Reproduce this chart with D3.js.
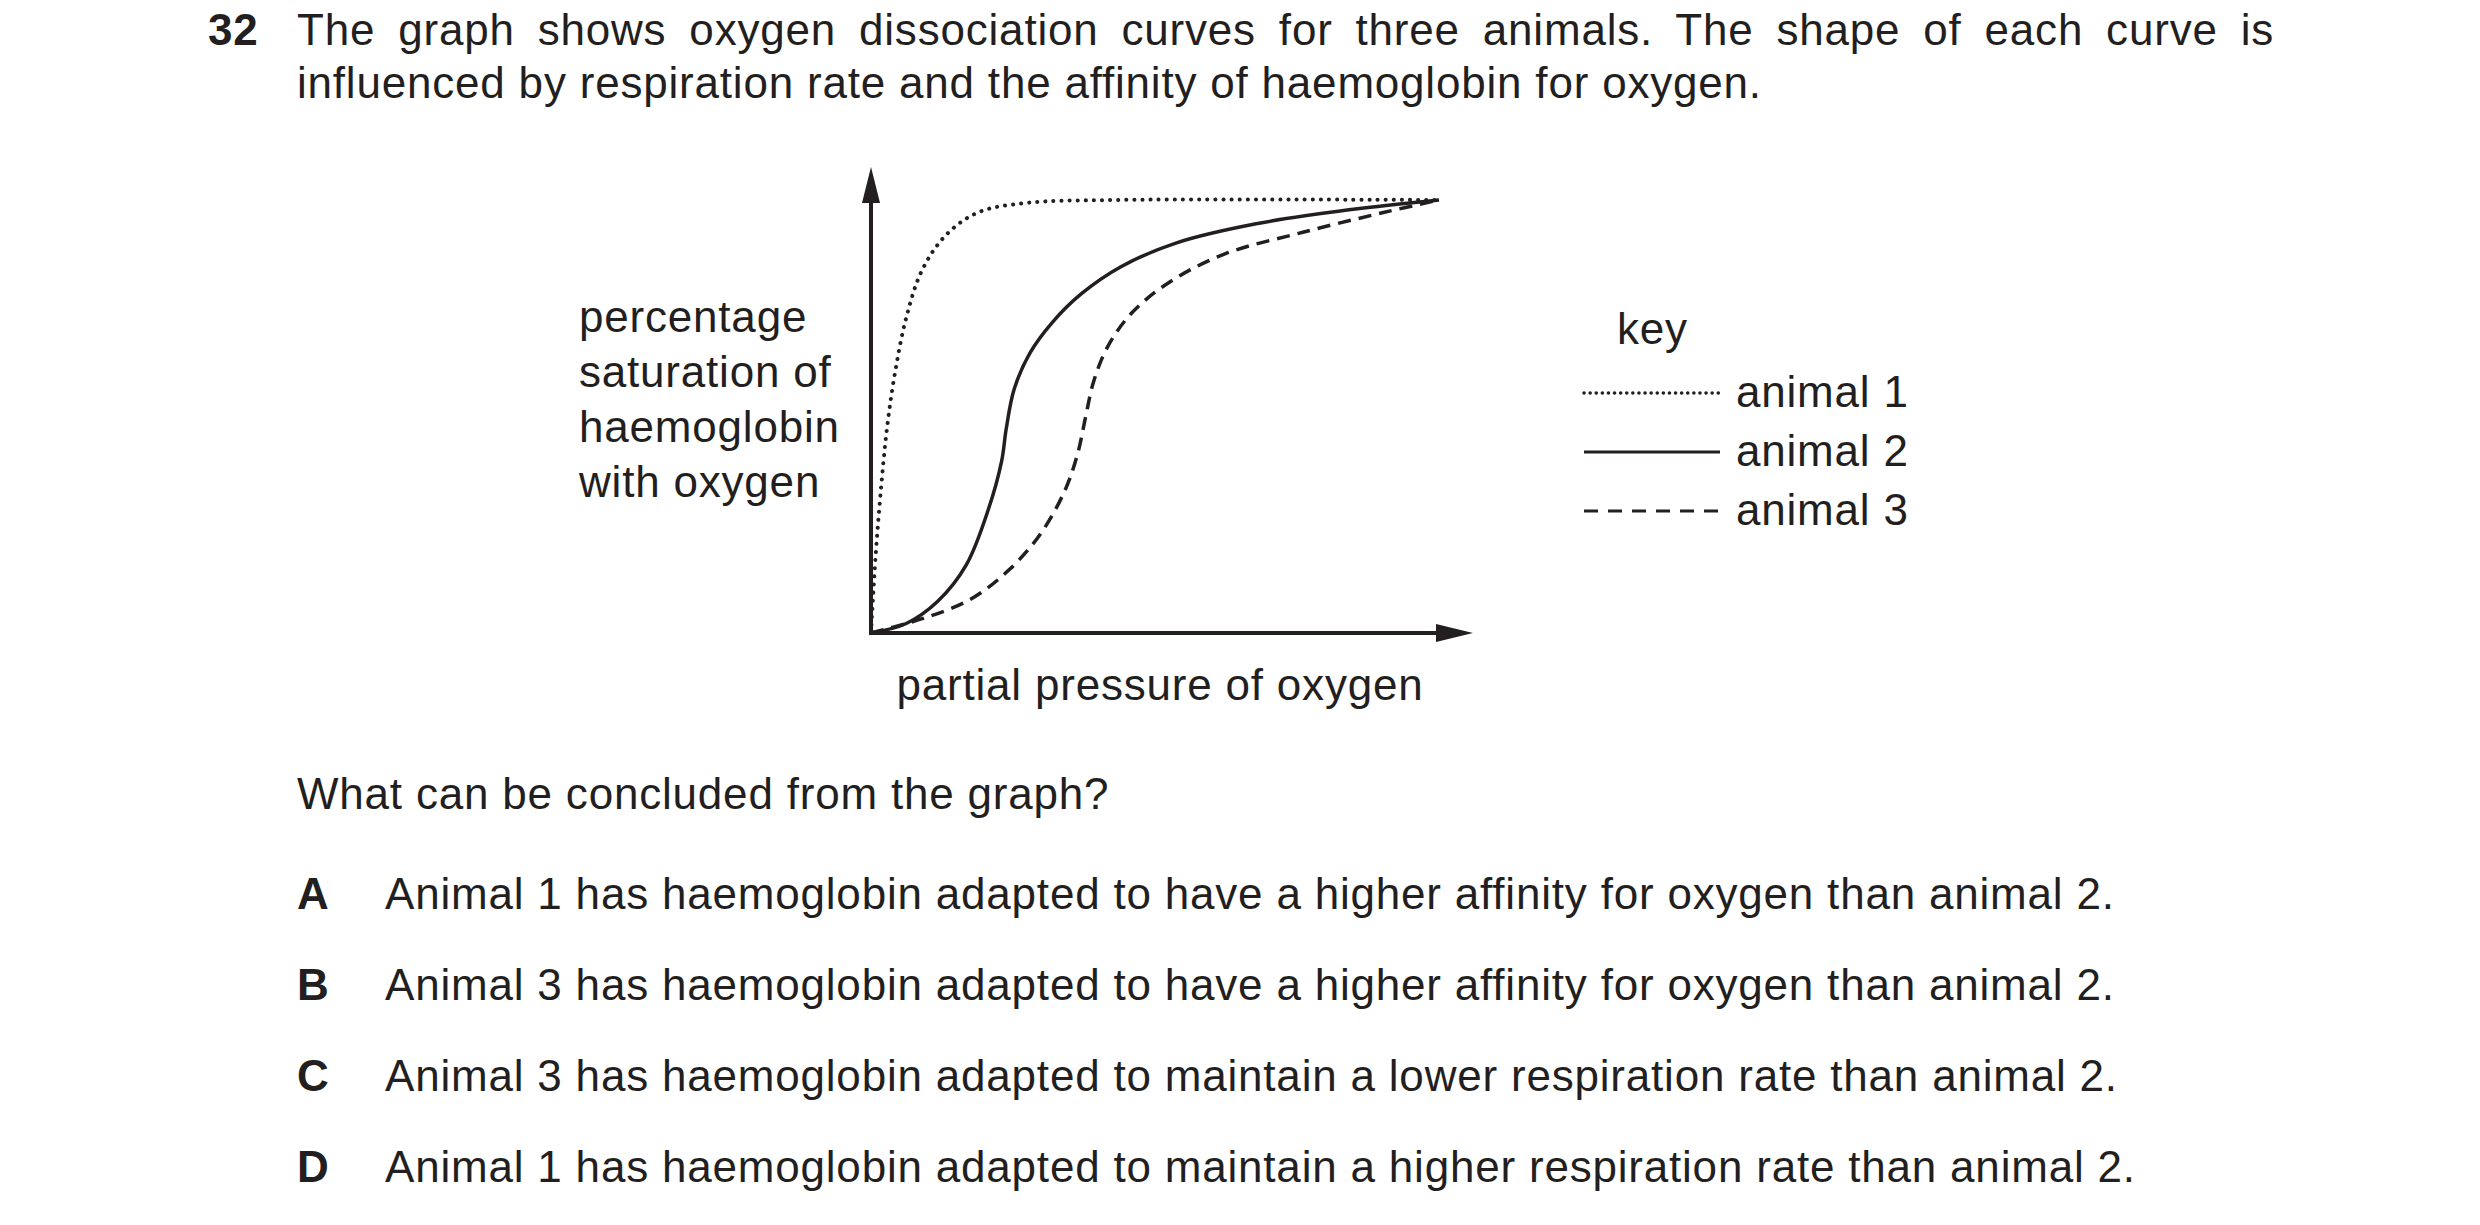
<!DOCTYPE html>
<html><head><meta charset="utf-8">
<script src="https://cdn.jsdelivr.net/npm/d3@7"></script>
<style>body{margin:0;background:#fff}text{font-family:"Liberation Sans",Arial,sans-serif;fill:#231f20;letter-spacing:0.8px}</style>
</head><body><svg id="c" width="2480" height="1225"></svg>
<script>
// data (x = % of axis length, y = % saturation)
const animal1X = [0,0.8,1.7,2.8,4.2,6.2,9,13.2,18.8,27.2,42.6,100];
const animal1Y = [0,17.6,32.4,47.1,59.9,72.8,83.8,91.9,97.1,99.3,100,100];
const animal2X = [0,6.2,11.8,16.8,20.7,23,23.8,25.2,28,31.9,37,44,53.8,67.8,84.6,100];
const animal2Y = [0,2.2,7.4,15.8,28.7,39.7,47.1,56.3,64.7,71.7,78.3,84.6,90.1,94.5,97.8,100];
const animal3X = [0,9,17.4,24.4,30,34.2,36.4,37.8,39.2,41.7,45.9,52.4,62.2,76.2,90.2,100];
const animal3Y = [0,3.3,7.7,14.7,23.2,33.1,41.5,50,58.1,66.2,73.9,80.9,87.5,92.6,97.1,100];
const seriesNames = ["animal 1","animal 2","animal 3"];
const yLabelLines = ["percentage","saturation of","haemoglobin","with oxygen"];
const xLabel = "partial pressure of oxygen";
const options = [["A","Animal 1 has haemoglobin adapted to have a higher affinity for oxygen than animal 2."],
["B","Animal 3 has haemoglobin adapted to have a higher affinity for oxygen than animal 2."],
["C","Animal 3 has haemoglobin adapted to maintain a lower respiration rate than animal 2."],
["D","Animal 1 has haemoglobin adapted to maintain a higher respiration rate than animal 2."]];

const svg = d3.select("#c");
const fs = 44;
const col = "#231f20";
svg.append("text").attr("x",208).attr("y",45).attr("font-size",fs).attr("font-weight","bold").text("32");
const l1 = svg.append("text").attr("x",297).attr("y",45).attr("font-size",fs)
  .text("The graph shows oxygen dissociation curves for three animals. The shape of each curve is");
const w = l1.node().getComputedTextLength(), ns = 15;
l1.attr("word-spacing",Math.max(0,(2284-297-w)/ns));
svg.append("text").attr("x",297).attr("y",98).attr("font-size",fs)
  .text("influenced by respiration rate and the affinity of haemoglobin for oxygen.");

const x0=871, x1=1439, y0=633, y1=200;
const x = d3.scaleLinear().domain([0,100]).range([x0,x1]);
const y = d3.scaleLinear().domain([0,100]).range([y0,y1]);
svg.append("line").attr("x1",x0).attr("y1",y0).attr("x2",x0).attr("y2",190).attr("stroke",col).attr("stroke-width",4);
svg.append("line").attr("x1",x0-2).attr("y1",y0).attr("x2",1440).attr("y2",y0).attr("stroke",col).attr("stroke-width",4);
svg.append("path").attr("d",`M${x0},167 L${x0-9},203 L${x0+9},203Z`).attr("fill",col);
svg.append("path").attr("d",`M1473,${y0} L1436,${y0-9} L1436,${y0+9}Z`).attr("fill",col);

const line = d3.line().x(d=>x(d[0])).y(d=>y(d[1])).curve(d3.curveCatmullRom.alpha(0.5));
const styles = [{da:"0.1 8",cap:"round",w:4},{da:null,cap:"butt",w:3.5},{da:"13 8",cap:"butt",w:3.5}];
[[animal1X,animal1Y],[animal2X,animal2Y],[animal3X,animal3Y]].forEach((s,i)=>{
  const pts = s[0].map((v,j)=>[v,s[1][j]]);
  svg.append("path").attr("d",line(pts)).attr("fill","none").attr("stroke",col)
    .attr("stroke-width",styles[i].w).attr("stroke-dasharray",styles[i].da).attr("stroke-linecap",styles[i].cap);
});
yLabelLines.forEach((t,i)=>svg.append("text").attr("x",579).attr("y",332+i*55).attr("font-size",fs).text(t));
svg.append("text").attr("x",1160).attr("y",700).attr("font-size",fs).attr("text-anchor","middle").text(xLabel);
svg.append("text").attr("x",1617).attr("y",344).attr("font-size",fs).text("key");
seriesNames.forEach((n,i)=>{
  const yy = 393+i*59;
  svg.append("line").attr("x1",1584).attr("x2",1720).attr("y1",yy).attr("y2",yy).attr("stroke",col)
    .attr("stroke-width",styles[i].w-0.5).attr("stroke-dasharray",styles[i].da?(i==0?"0.1 6":"14 10"):null).attr("stroke-linecap",styles[i].cap);
  svg.append("text").attr("x",1736).attr("y",yy+14).attr("font-size",fs).text(n);
});
svg.append("text").attr("x",297).attr("y",809).attr("font-size",fs).text("What can be concluded from the graph?");
options.forEach((o,i)=>{
  const yy = 909+i*91;
  svg.append("text").attr("x",297).attr("y",yy).attr("font-size",fs).attr("font-weight","bold").text(o[0]);
  svg.append("text").attr("x",385).attr("y",yy).attr("font-size",fs).text(o[1]);
});
</script></body></html>
